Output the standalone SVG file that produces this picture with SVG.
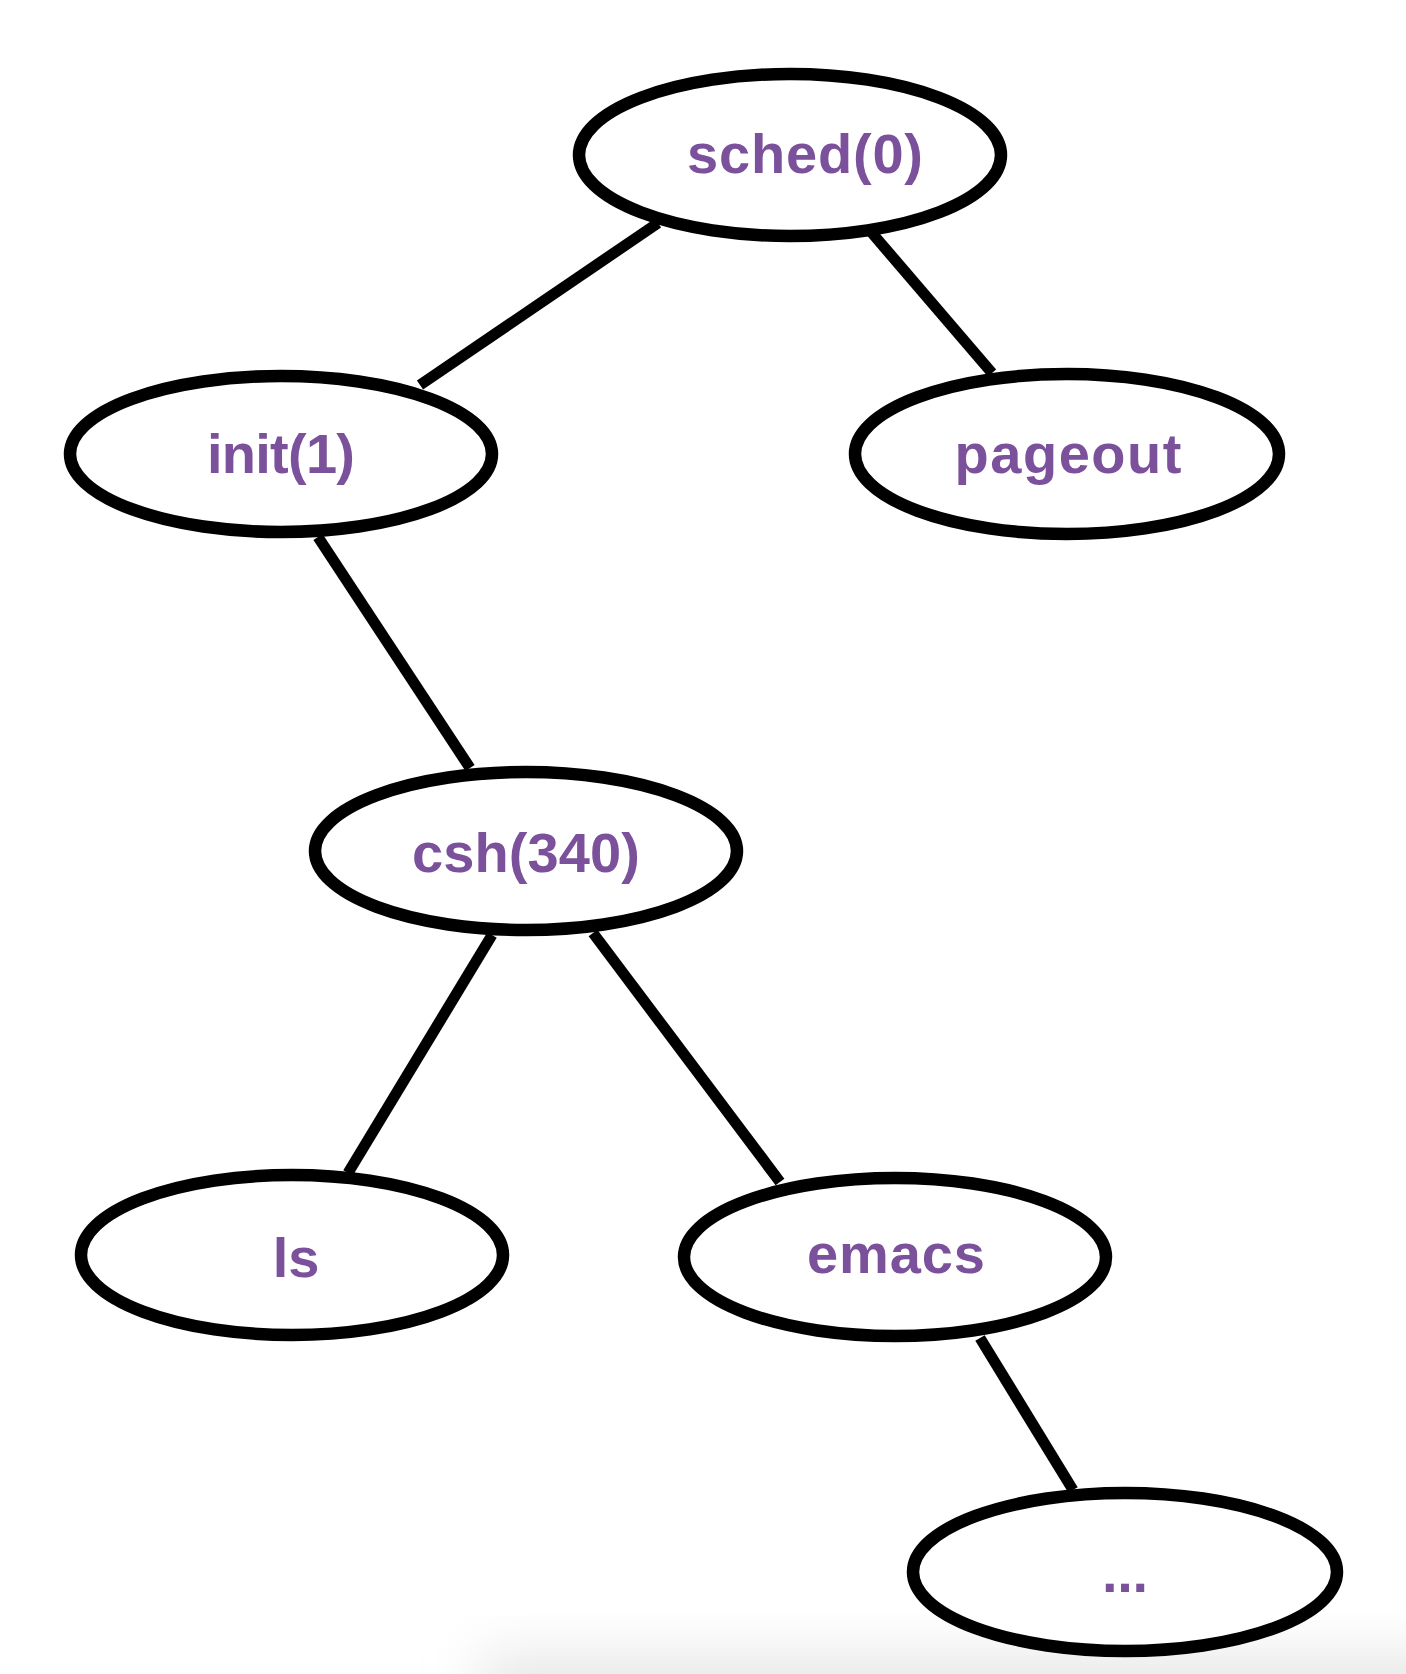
<svg xmlns="http://www.w3.org/2000/svg" width="1406" height="1674" viewBox="0 0 1406 1674">
<style>
.node ellipse{fill:#fff;stroke:#000;stroke-width:12.5}
.node text{font-family:"Liberation Sans",Arial,sans-serif;font-weight:bold;font-size:56px;fill:#7b519c;text-anchor:middle}
#connectors line{stroke:#000;stroke-width:11}
</style>
<defs>
<filter id="blur" x="-50%" y="-50%" width="200%" height="200%"><feGaussianBlur stdDeviation="28"/></filter>
</defs>
<rect width="1406" height="1674" fill="#fff"/>
<rect x="480" y="1655" width="1000" height="80" fill="#e6e6e6" filter="url(#blur)"/>
<g id="connectors">
<line x1="658" y1="223" x2="420" y2="385"/>
<line x1="872" y1="233" x2="992" y2="373"/>
<line x1="318" y1="537" x2="470" y2="768"/>
<line x1="492" y1="935" x2="348" y2="1173"/>
<line x1="593" y1="933" x2="780" y2="1182"/>
<line x1="980" y1="1338" x2="1073" y2="1490"/>
</g>
<g id="sched" class="node"><ellipse cx="790" cy="155" rx="211" ry="81"/><text x="805" y="173" textLength="236">sched(0)</text></g>
<g id="init" class="node"><ellipse cx="281" cy="454" rx="211" ry="78"/><text x="281" y="473" textLength="148">init(1)</text></g>
<g id="pageout" class="node"><ellipse cx="1067" cy="454" rx="212" ry="80"/><text x="1068" y="473" textLength="227">pageout</text></g>
<g id="csh" class="node"><ellipse cx="526" cy="851" rx="211" ry="79"/><text x="526" y="872" textLength="228">csh(340)</text></g>
<g id="ls" class="node"><ellipse cx="292" cy="1255" rx="211" ry="80"/><text x="296" y="1277">ls</text></g>
<g id="emacs" class="node"><ellipse cx="895" cy="1257" rx="211" ry="79"/><text x="896" y="1273" textLength="178">emacs</text></g>
<g id="more" class="node"><ellipse cx="1125" cy="1572" rx="212" ry="79"/><text x="1125" y="1592" textLength="46">...</text></g>
</svg>
